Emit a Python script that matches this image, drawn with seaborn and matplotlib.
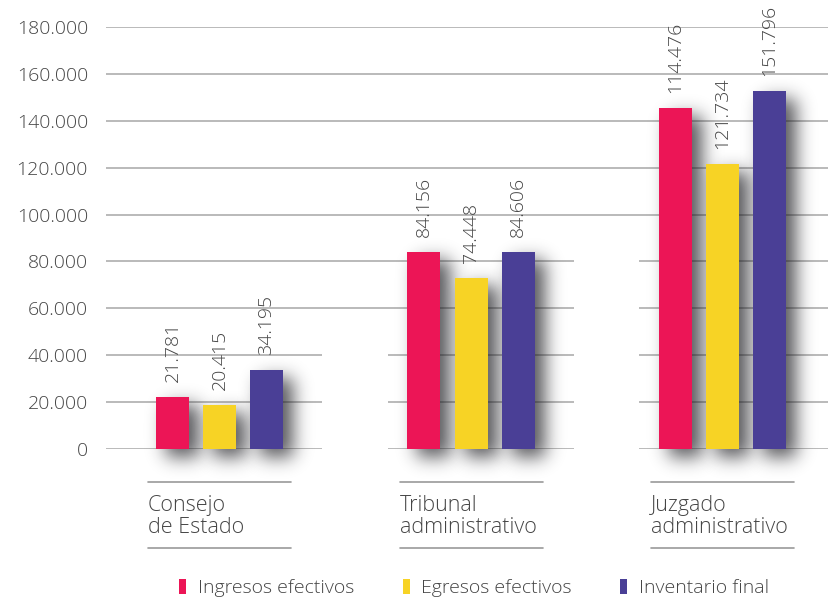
import numpy as np
import pandas as pd
import matplotlib
matplotlib.use("Agg")
import matplotlib.pyplot as plt
import matplotlib.transforms as mtransforms
from matplotlib.patches import Rectangle
from matplotlib.lines import Line2D
import seaborn as sns

# ---------------- data ----------------
categories = ["Consejo\nde Estado", "Tribunal\nadministrativo", "Juzgado\nadministrativo"]
series = ["Ingresos efectivos", "Egresos efectivos", "Inventario final"]
# bar heights as drawn in the picture
ingresos = [22200, 84000, 145500]
egresos = [18800, 73000, 121500]
inventario = [33700, 84000, 152700]
# value labels as printed in the picture
ingresos_labels = ["21.781", "84.156", "114.476"]
egresos_labels = ["20.415", "74.448", "121.734"]
inventario_labels = ["34.195", "84.606", "151.796"]
yticks = [0, 20000, 40000, 60000, 80000, 100000, 120000, 140000, 160000, 180000]
ytick_labels = ["0", "20.000", "40.000", "60.000", "80.000", "100.000",
                "120.000", "140.000", "160.000", "180.000"]
colors = ["#EC1556", "#F7D325", "#4A3F96"]

values = [ingresos, egresos, inventario]
labels = [ingresos_labels, egresos_labels, inventario_labels]
df = pd.DataFrame({
    "categoria": [c for s in series for c in categories],
    "serie": [s for s in series for c in categories],
    "valor": [v for vals in values for v in vals],
})

sns.set_theme(style="white")
plt.rcParams["font.family"] = ["Open Sans", "DejaVu Sans"]
plt.rcParams["font.weight"] = "light"

TXT = "#454545"

fig = plt.figure(figsize=(8.29, 5.98), dpi=100)
ax = fig.add_axes([106 / 829, 149 / 598, 723 / 829, 422 / 598])

sns.barplot(data=df, x="categoria", y="valor", hue="serie", order=categories,
            hue_order=series, palette=colors, saturation=1, width=0.561, gap=0.298,
            errorbar=None, legend=False, ax=ax, linewidth=0)

ax.set_xlim(-0.451, 2.423)
ax.set_ylim(0, 180000)
ax.set_yticks(yticks)
ax.set_yticklabels(ytick_labels)
ax.tick_params(axis="y", length=0, pad=13, labelsize=14, labelcolor=TXT)
ax.tick_params(axis="x", length=0, labelbottom=False)
ax.set_xlabel("")
ax.set_ylabel("")
for sp in ax.spines.values():
    sp.set_visible(False)
ax.yaxis.grid(True, color="#b4b4b4", linewidth=1.3, zorder=0.5)
ax.xaxis.grid(False)
ax.set_axisbelow(True)


# ---------------- drop shadow filter ----------------
def blur1d(a, sigma, axis):
    r = int(3 * sigma) + 1
    xs = np.arange(-r, r + 1)
    k = np.exp(-xs ** 2 / (2.0 * sigma ** 2))
    k /= k.sum()
    out = np.zeros_like(a)
    for i, w in zip(xs, k):
        out += w * np.roll(a, i, axis=axis)
    return out


class ShadowFilter:
    def __init__(self, sigma, alpha, dx, dy, color=(0.1, 0.1, 0.12)):
        self.sigma, self.alpha, self.dx, self.dy, self.color = sigma, alpha, dx, dy, color

    def __call__(self, im, dpi):
        pad = int(self.sigma * 3 + max(abs(self.dx), abs(self.dy))) + 4
        a = np.pad(im[:, :, 3], pad)
        a = np.roll(a, self.dx, axis=1)
        a = np.roll(a, self.dy, axis=0)
        a = blur1d(blur1d(a, self.sigma, 0), self.sigma, 1)
        out = np.zeros(a.shape + (4,))
        out[..., :3] = self.color
        out[..., 3] = np.clip(a * self.alpha, 0, 1)
        return out, -pad, -pad


shadow_filter = ShadowFilter(sigma=9, alpha=0.74, dx=10, dy=8)

for ci, cont in enumerate(ax.containers):
    for bi, bar in enumerate(cont):
        bar.set_zorder(2)
        sh = Rectangle(bar.get_xy(), bar.get_width(), bar.get_height(),
                       facecolor="black", edgecolor="none", zorder=1.2)
        sh.set_agg_filter(shadow_filter)
        sh.set_rasterized(True)
        sh.set_clip_on(False)
        ax.add_patch(sh)
        ax.annotate(labels[ci][bi],
                    xy=(bar.get_x() + bar.get_width() / 2, bar.get_height()),
                    xytext=(0, 15), textcoords="offset pixels",
                    rotation=90, ha="center", va="bottom",
                    fontsize=14, color=TXT, annotation_clip=False)

# gaps in the gridlines between groups (white halo between bar groups)
xs_cent = np.arange(len(categories))
group_max = [max(v[i] for v in values) for i in range(len(categories))]
half_group = 63.5 / 251.5
for i in range(len(categories) - 1):
    x0 = xs_cent[i] + half_group + 39 / 251.5
    x1 = xs_cent[i + 1] - half_group - 20 / 251.5
    top = min(group_max[i], group_max[i + 1]) + 10000
    ax.add_patch(Rectangle((x0, -12000), x1 - x0, top + 12000, facecolor="white",
                           edgecolor="none", zorder=0.8, clip_on=False))

# ---------------- category labels with rules ----------------
blend = mtransforms.blended_transform_factory(ax.transData, ax.transAxes)
half_rule = 71.5 / 251.5
y_rule1 = (449 - 482) / 422
y_rule2 = (449 - 548) / 422
y_text = (449 - 495) / 422
for i, cat in enumerate(categories):
    for yr in (y_rule1, y_rule2):
        ax.add_line(Line2D([i - half_rule, i + half_rule], [yr, yr], transform=blend,
                           color="#9a9a9a", linewidth=1.2, clip_on=False))
    ax.text(i - half_rule, y_text, cat, transform=blend, ha="left", va="top",
            fontsize=15.5, color=TXT, linespacing=1.08)

# ---------------- legend ----------------
handles = [Rectangle((0, 0), 1, 1, facecolor=c, edgecolor="none") for c in colors]
fig.legend(handles, series, loc="center", bbox_to_anchor=(0.572, 0.0167), ncol=3,
           frameon=False, fontsize=14, handlelength=0.36, handleheight=0.85,
           handletextpad=0.6, columnspacing=2.5, labelcolor=TXT)

fig.savefig("out.png", dpi=100)
